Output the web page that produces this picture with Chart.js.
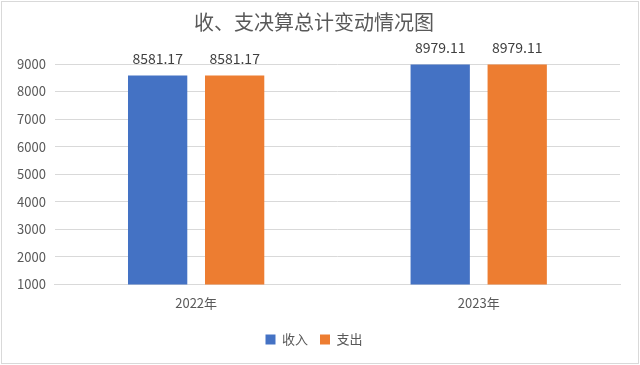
<!DOCTYPE html>
<html>
<head>
<meta charset="utf-8">
<script src="https://cdn.jsdelivr.net/npm/chart.js@4/dist/chart.umd.min.js"></script>
<style>
  html,body{margin:0;padding:0;background:#fff;}
  #wrap{position:relative;width:640px;height:365px;}
</style>
</head>
<body>
<div id="wrap"><canvas id="c" width="640" height="365"></canvas></div>
<script>
// data
const years = ['2022年', '2023年'];
const income = [8581.17, 8979.11];
const spending = [8581.17, 8979.11];
const seriesNames = ['收入', '支出'];

const FONT = '"Noto Sans CJK SC", "Noto Sans", sans-serif';

// light frame round the whole chart
const framePlugin = {
  id: 'frame',
  beforeDraw(chart){
    const ctx = chart.ctx;
    ctx.save();
    ctx.fillStyle = '#fff';
    ctx.fillRect(0, 0, chart.width, chart.height);
    ctx.strokeStyle = '#d9d9d9';
    ctx.lineWidth = 1;
    ctx.strokeRect(1.5, 1.5, chart.width - 3, chart.height - 3);
    ctx.restore();
  }
};

// value labels above each bar
const labelPlugin = {
  id: 'valueLabels',
  afterDatasetsDraw(chart){
    const ctx = chart.ctx;
    ctx.save();
    ctx.font = '14px ' + FONT;
    ctx.fillStyle = '#404040';
    ctx.textAlign = 'center';
    ctx.textBaseline = 'bottom';
    chart.data.datasets.forEach((ds, i) => {
      chart.getDatasetMeta(i).data.forEach((bar, j) => {
        ctx.fillText(ds.data[j].toFixed(2), bar.x, bar.y - 10);
      });
    });
    ctx.restore();
  }
};

new Chart(document.getElementById('c'), {
  type: 'bar',
  data: {
    labels: years,
    datasets: [
      { label: seriesNames[0], data: income, backgroundColor: '#4472C4' },
      { label: seriesNames[1], data: spending, backgroundColor: '#ED7D31' }
    ]
  },
  options: {
    responsive: false,
    animation: false,
    devicePixelRatio: 1,
    layout: { padding: { left: 8, right: 20, top: 4, bottom: 9 } },
    datasets: { bar: { categoryPercentage: 0.545, barPercentage: 0.77 } },
    scales: {
      x: {
        grid: { display: false },
        border: { color: '#d9d9d9' },
        ticks: { color: '#595959', font: { family: FONT, size: 13 }, padding: 3 },
        afterFit(scale){ scale.height += 7; }
      },
      y: {
        min: 1000, max: 9000,
        ticks: { stepSize: 1000, color: '#595959', font: { family: FONT, size: 13 }, padding: 9,
                 callback: v => String(v) },
        grid: { color: '#d9d9d9', drawTicks: false },
        border: { display: false }
      }
    },
    plugins: {
      title: {
        display: true,
        text: '收、支决算总计变动情况图',
        color: '#595959',
        font: { family: FONT, size: 20, weight: 'normal' },
        padding: { top: 6, bottom: 30 }
      },
      legend: {
        position: 'bottom',
        labels: { color: '#595959', font: { family: FONT, size: 13 }, boxWidth: 10, boxHeight: 10, padding: 12 }
      },
      tooltip: { enabled: false }
    }
  },
  plugins: [framePlugin, labelPlugin]
});
</script>
</body>
</html>
